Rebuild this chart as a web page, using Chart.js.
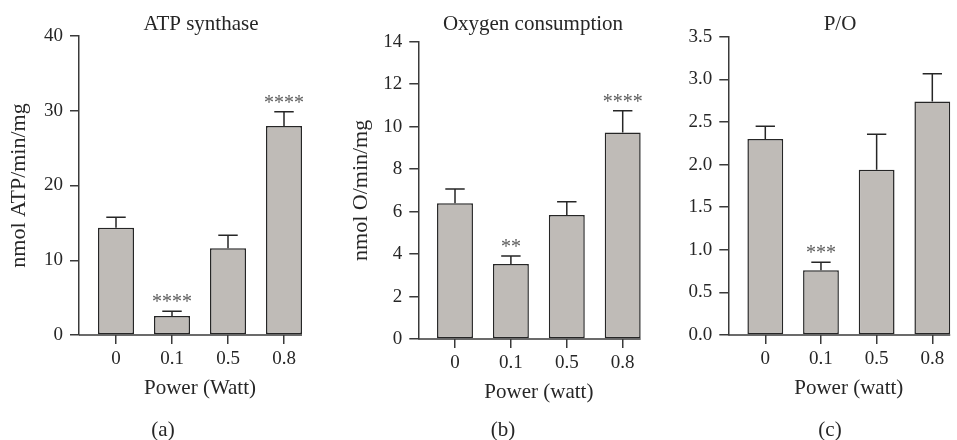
<!DOCTYPE html>
<html>
<head>
<meta charset="utf-8">
<script src="https://cdn.jsdelivr.net/npm/chart.js@4.4.1/dist/chart.umd.min.js"></script>
<style>
  html, body { margin: 0; padding: 0; background: #fff; width: 957px; height: 440px; overflow: hidden; }
  canvas { position: absolute; top: 0; }
</style>
</head>
<body>
<canvas id="chartA"></canvas>
<canvas id="chartB"></canvas>
<canvas id="chartC"></canvas>
<script>
// categories (power in watt)
const powerLevels = ["0", "0.1", "0.5", "0.8"];

// (a) ATP synthase
const atpMean = [14.35, 2.55, 11.6, 27.95];
const atpErr = [1.39, 0.63, 1.74, 1.91];
const atpStars = ["", "****", "", "****"];
const atpTicks = [0, 10, 20, 30, 40];

// (b) Oxygen consumption
const oxyMean = [6.39, 3.53, 5.84, 9.73];
const oxyErr = [0.67, 0.38, 0.62, 1.02];
const oxyStars = ["", "**", "", "****"];
const oxyTicks = [0, 2, 4, 6, 8, 10, 12, 14];

// (c) P/O
const poMean = [2.30, 0.76, 1.94, 2.74];
const poErr = [0.15, 0.095, 0.415, 0.325];
const poStars = ["", "***", "", ""];
const poTicks = [0, 0.5, 1, 1.5, 2, 2.5, 3, 3.5];

const FONT = "'Liberation Serif', 'Times New Roman', serif";
const INK = "#262626";
const AXIS = "#3a3a3a";
const BAR = "#bfbbb7";

Chart.defaults.font.family = FONT;
Chart.defaults.color = INK;

// error bars, stars, truncated x axis line, panel title and letter
const decoPlugin = {
  id: "panelDeco",
  afterDatasetsDraw(chart, args, o) {
    const ctx = chart.ctx;
    const y = chart.scales.y;
    const area = chart.chartArea;
    const bars = chart.getDatasetMeta(0).data;
    ctx.save();
    ctx.lineWidth = 1.5;
    ctx.strokeStyle = INK;
    bars.forEach((bar, i) => {
      const top = y.getPixelForValue(o.mean[i] + o.err[i]);
      const half = bar.width * 0.27;
      ctx.beginPath();
      ctx.moveTo(bar.x, bar.y);
      ctx.lineTo(bar.x, top);
      ctx.moveTo(bar.x - half, top);
      ctx.lineTo(bar.x + half, top);
      ctx.stroke();
      if (o.stars[i]) {
        ctx.fillStyle = "#5c5c5c";
        ctx.font = "20px " + FONT;
        ctx.textAlign = "center";
        ctx.textBaseline = "alphabetic";
        ctx.fillText(o.stars[i], bar.x, top - 3);
      }
    });
    const last = bars[bars.length - 1];
    ctx.strokeStyle = AXIS;
    ctx.beginPath();
    ctx.moveTo(area.left, area.bottom);
    ctx.lineTo(last.x + last.width / 2, area.bottom);
    ctx.stroke();

    ctx.fillStyle = INK;
    ctx.font = "21px " + FONT;
    ctx.textAlign = "center";
    ctx.textBaseline = "alphabetic";
    ctx.fillText(o.title, o.titleX, o.titleY);
    ctx.fillText(o.letter, o.letterX, o.letterY);
    ctx.restore();
  }
};

function makePanel(id, p) {
  const canvas = document.getElementById(id);
  const xMin = -(p.firstCenter - p.axisX) / p.step;
  const xMax = (powerLevels.length - 1) - xMin;
  const right = p.axisX + (xMax - xMin) * p.step;
  const w = Math.ceil(right - p.left) + 2;
  canvas.width = w;
  canvas.height = 440;
  canvas.style.left = p.left + "px";

  return new Chart(canvas.getContext("2d"), {
    type: "bar",
    data: {
      datasets: [{
        data: p.mean.map((v, i) => ({ x: i, y: v })),
        backgroundColor: BAR,
        borderColor: INK,
        borderWidth: 1.5,
        borderSkipped: false,
        barPercentage: 0.643,
        categoryPercentage: 1
      }]
    },
    options: {
      responsive: false,
      animation: false,
      devicePixelRatio: 1,
      layout: { padding: { top: p.top, left: 0, bottom: 0, right: w - (right - p.left) } },
      plugins: {
        legend: { display: false },
        tooltip: { enabled: false },
        panelDeco: {
          mean: p.mean, err: p.err, stars: p.stars,
          title: p.title, titleX: p.titleX - p.left, titleY: 29.5,
          letter: p.letter, letterX: p.letterX - p.left, letterY: 436
        }
      },
      scales: {
        x: {
          type: "linear",
          min: xMin,
          max: xMax,
          offset: false,
          afterBuildTicks: s => { s.ticks = powerLevels.map((c, i) => ({ value: i })); },
          afterFit: s => { s.height = 440 - p.bottom; },
          ticks: {
            callback: v => powerLevels[v],
            font: { size: 19 },
            color: INK,
            padding: 4,
            maxRotation: 0
          },
          grid: { offset: false, drawOnChartArea: false, tickLength: 9, color: AXIS, lineWidth: 1.5 },
          border: { display: false },
          title: {
            display: true,
            text: p.xTitle,
            font: { size: 21 },
            color: INK,
            padding: { top: 0, bottom: 440 - 12.6 - (p.bottom + 53) }
          }
        },
        y: {
          min: p.ticks[0],
          max: p.ticks[p.ticks.length - 1],
          afterBuildTicks: s => { s.ticks = p.ticks.map(v => ({ value: v })); },
          afterFit: s => { s.width = p.axisX - p.left; },
          ticks: {
            callback: v => v.toFixed(p.decimals),
            font: { size: 19 },
            color: INK,
            padding: 7
          },
          grid: { drawOnChartArea: false, tickLength: 9, color: AXIS, lineWidth: 1.5 },
          border: { display: true, color: AXIS, width: 1.5 },
          title: {
            display: !!p.yTitle,
            text: p.yTitle,
            font: { size: 22 },
            color: INK,
            padding: { top: p.yTitleX - p.left - 13.2, bottom: 0 }
          }
        }
      }
    },
    plugins: [decoPlugin]
  });
}

makePanel("chartA", {
  left: 0, axisX: 79, top: 36, bottom: 335, step: 56, firstCenter: 116,
  mean: atpMean, err: atpErr, stars: atpStars, ticks: atpTicks, decimals: 0,
  title: "ATP synthase", titleX: 201, letter: "(a)", letterX: 163,
  xTitle: "Power (Watt)", yTitle: "nmol ATP/min/mg", yTitleX: 19.5
});

makePanel("chartB", {
  left: 320, axisX: 418.3, top: 41.7, bottom: 339, step: 55.9, firstCenter: 455,
  mean: oxyMean, err: oxyErr, stars: oxyStars, ticks: oxyTicks, decimals: 0,
  title: "Oxygen consumption", titleX: 533, letter: "(b)", letterX: 503,
  xTitle: "Power (watt)", yTitle: "nmol O/min/mg", yTitleX: 361
});

makePanel("chartC", {
  left: 640, axisX: 728.3, top: 36.7, bottom: 335, step: 55.67, firstCenter: 765.3,
  mean: poMean, err: poErr, stars: poStars, ticks: poTicks, decimals: 1,
  title: "P/O", titleX: 840, letter: "(c)", letterX: 830,
  xTitle: "Power (watt)", yTitle: "", yTitleX: 660
});
</script>
</body>
</html>
